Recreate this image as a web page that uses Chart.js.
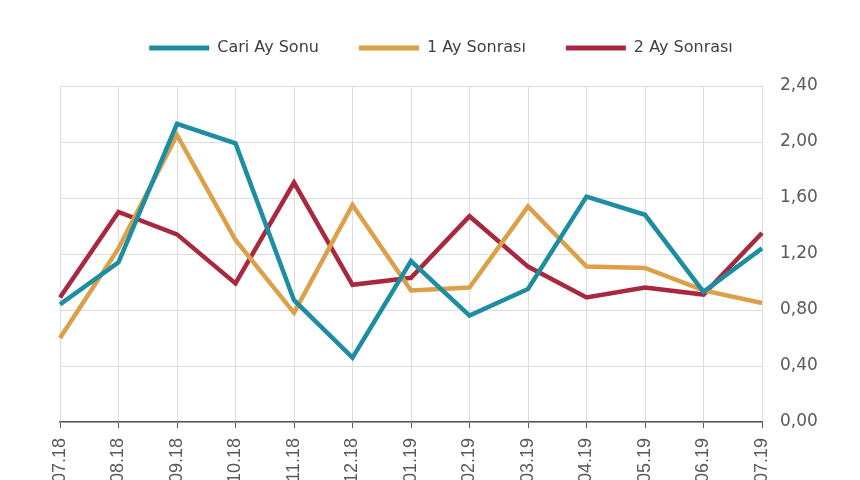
<!DOCTYPE html>
<html>
<head>
<meta charset="utf-8">
<script src="https://cdn.jsdelivr.net/npm/chart.js@4.4.1/dist/chart.umd.min.js"></script>
<style>
  html, body { margin: 0; padding: 0; background: #fff; overflow: hidden; }
  #wrap { position: relative; width: 860px; height: 480px; }
</style>
</head>
<body>
<div id="wrap"><canvas id="c"></canvas></div>
<script>
// aylar (x ekseni)
var aylar = ['07.18', '08.18', '09.18', '10.18', '11.18', '12.18', '01.19',
             '02.19', '03.19', '04.19', '05.19', '06.19', '07.19'];

// seriler
var cariAySonu  = [0.84, 1.14, 2.13, 1.99, 0.87, 0.46, 1.15, 0.76, 0.95, 1.61, 1.48, 0.93, 1.24];
var birAySonra  = [0.60, 1.24, 2.05, 1.30, 0.78, 1.55, 0.94, 0.96, 1.54, 1.11, 1.10, 0.94, 0.85];
var ikiAySonra  = [0.89, 1.50, 1.34, 0.99, 1.71, 0.98, 1.03, 1.47, 1.11, 0.89, 0.96, 0.91, 1.35];

var seriAdlari = ['Cari Ay Sonu', '1 Ay Sonrası', '2 Ay Sonrası'];
var renkler = ['#1d8ea2', '#dba048', '#a8283f'];

var YMIN = 0, YMAX = 2.4, YADIM = 0.4;

function ds(label, data, renk) {
  return {
    label: label, data: data,
    borderColor: renk, backgroundColor: renk,
    borderWidth: 4.5, pointRadius: 0, tension: 0, fill: false,
    borderJoinStyle: 'miter'
  };
}

// Legende und Zeichenfläche etwas auseinanderziehen
var legendAbstand = {
  id: 'legendAbstand',
  beforeInit: function (chart) {
    var fit = chart.legend.fit;
    chart.legend.fit = function () {
      fit.call(this);
      this.height += 20;
    };
  }
};

new Chart(document.getElementById('c').getContext('2d'), {
  type: 'line',
  data: {
    labels: aylar,
    datasets: [
      ds(seriAdlari[0], cariAySonu, renkler[0]),
      ds(seriAdlari[1], birAySonra, renkler[1]),
      ds(seriAdlari[2], ikiAySonra, renkler[2])
    ]
  },
  plugins: [legendAbstand],
  options: {
    responsive: true, maintainAspectRatio: false, animation: false,
    layout: { padding: { left: 60, right: 38, top: 0, bottom: 0 } },
    plugins: {
      tooltip: { enabled: false },
      legend: {
        position: 'top',
        labels: {
          boxWidth: 60, boxHeight: 5, padding: 40,
          color: '#404040',
          font: { family: 'DejaVu Sans', size: 16 },
          generateLabels: function (chart) {
            var items = Chart.defaults.plugins.legend.labels.generateLabels(chart);
            items.forEach(function (it) { it.lineWidth = 0; });
            return items;
          }
        }
      }
    },
    scales: {
      x: {
        offset: false,
        grid: { color: '#dcdcdc', tickColor: '#595959', tickLength: 6, lineWidth: 1 },
        border: { color: '#595959', width: 1.5 },
        ticks: {
          autoSkip: false, minRotation: 90, maxRotation: 90, padding: 10,
          color: '#595959', font: { family: 'Liberation Sans', size: 18 }
        },
        afterFit: function (s) { s.height = 58; }
      },
      y: {
        position: 'right',
        min: YMIN, max: YMAX,
        grid: { color: '#dcdcdc', drawTicks: false },
        border: { display: false },
        ticks: {
          stepSize: YADIM, padding: 18,
          color: '#595959', font: { family: 'DejaVu Sans', size: 17 },
          callback: function (v) { return v.toFixed(2).replace('.', ','); }
        },
        afterFit: function (s) { s.width = 60; }
      }
    }
  }
});
</script>
</body>
</html>
